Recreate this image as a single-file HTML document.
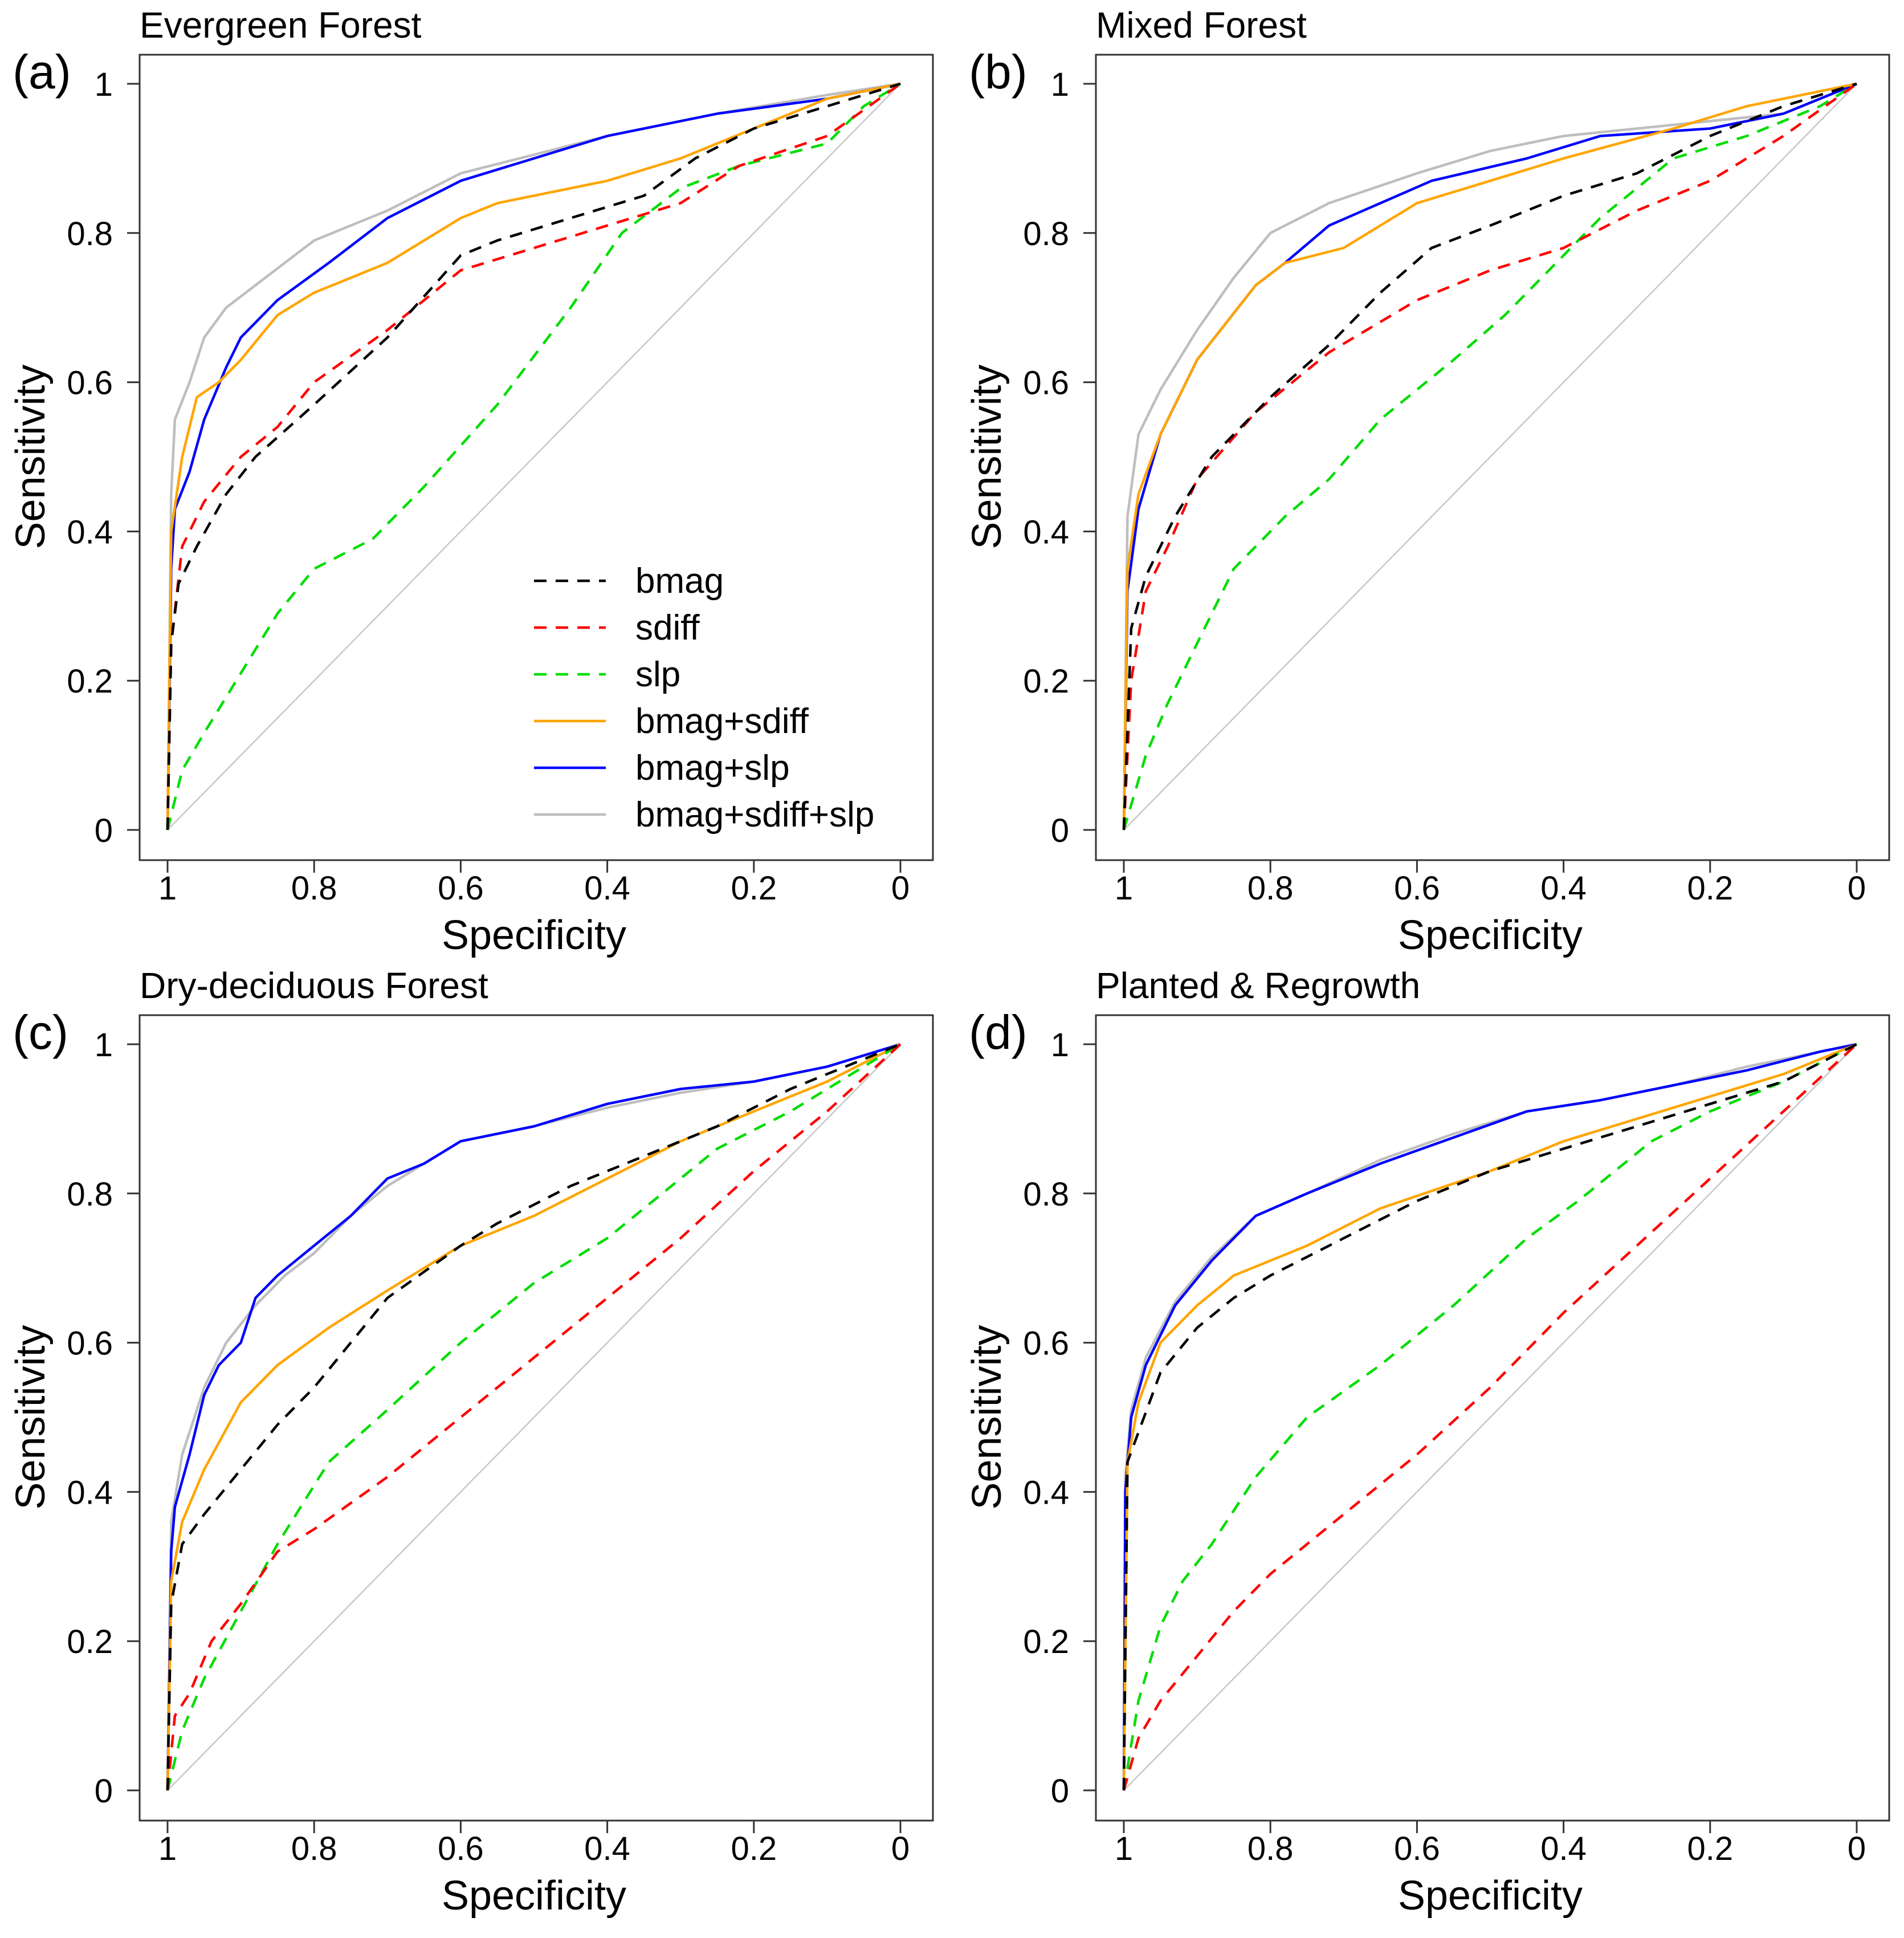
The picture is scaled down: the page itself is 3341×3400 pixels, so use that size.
<!DOCTYPE html>
<html><head><meta charset="utf-8">
<style>
html,body{margin:0;padding:0;background:#fff;}
svg{display:block;}
text{font-family:"Liberation Sans",Arial,sans-serif;fill:#000;}
</style></head>
<body>
<svg id="fig" width="3341" height="3400" viewBox="0 0 3341 3400" xmlns="http://www.w3.org/2000/svg"></svg>
<script>
// ---- data: [specificity, sensitivity] pairs ----
const panelTitles = ["Evergreen Forest","Mixed Forest","Dry-deciduous Forest","Planted & Regrowth"];
const panelLetters = ["(a)","(b)","(c)","(d)"];
const seriesNames = ["bmag","sdiff","slp","bmag+sdiff","bmag+slp","bmag+sdiff+slp"];
const xTicks = [1,0.8,0.6,0.4,0.2,0];
const xTickLabels = ["1","0.8","0.6","0.4","0.2","0"];
const yTicks = [0,0.2,0.4,0.6,0.8,1];
const yTickLabels = ["0","0.2","0.4","0.6","0.8","1"];

const aBmag = [[1,0],[0.995,0.25],[0.985,0.33],[0.96,0.38],[0.92,0.45],[0.88,0.5],[0.8,0.57],[0.7,0.66],[0.6,0.77],[0.55,0.79],[0.45,0.82],[0.35,0.85],[0.28,0.9],[0.2,0.94],[0.1,0.97],[0,1]];
const aSdiff = [[1,0],[0.995,0.25],[0.98,0.38],[0.95,0.44],[0.9,0.5],[0.85,0.54],[0.8,0.6],[0.7,0.67],[0.6,0.75],[0.5,0.78],[0.4,0.81],[0.3,0.84],[0.22,0.89],[0.1,0.93],[0,1]];
const aSlp = [[1,0],[0.98,0.08],[0.95,0.13],[0.9,0.21],[0.85,0.29],[0.8,0.35],[0.72,0.39],[0.65,0.46],[0.55,0.57],[0.45,0.7],[0.38,0.8],[0.3,0.86],[0.22,0.89],[0.1,0.92],[0.05,0.97],[0,1]];
const aBmagSdiff = [[1,0],[0.995,0.4],[0.98,0.5],[0.96,0.58],[0.93,0.6],[0.9,0.63],[0.85,0.69],[0.8,0.72],[0.7,0.76],[0.6,0.82],[0.55,0.84],[0.4,0.87],[0.3,0.9],[0.2,0.94],[0.1,0.98],[0,1]];
const aBmagSlp = [[1,0],[0.995,0.35],[0.99,0.43],[0.97,0.48],[0.95,0.55],[0.92,0.62],[0.9,0.66],[0.85,0.71],[0.78,0.76],[0.7,0.82],[0.6,0.87],[0.5,0.9],[0.4,0.93],[0.25,0.96],[0.1,0.98],[0,1]];
const aAll = [[1,0],[0.995,0.45],[0.99,0.55],[0.97,0.6],[0.95,0.66],[0.92,0.7],[0.88,0.73],[0.8,0.79],[0.7,0.83],[0.6,0.88],[0.5,0.905],[0.4,0.93],[0.25,0.96],[0.1,0.985],[0,1]];

const bBmag = [[1,0],[0.99,0.27],[0.97,0.34],[0.93,0.42],[0.88,0.5],[0.8,0.58],[0.72,0.65],[0.65,0.72],[0.58,0.78],[0.5,0.81],[0.4,0.85],[0.3,0.88],[0.2,0.93],[0.1,0.97],[0,1]];
const bSdiff = [[1,0],[0.99,0.2],[0.97,0.32],[0.94,0.38],[0.9,0.47],[0.82,0.56],[0.72,0.64],[0.6,0.71],[0.5,0.75],[0.4,0.78],[0.3,0.83],[0.2,0.87],[0.1,0.93],[0,1]];
const bSlp = [[1,0],[0.97,0.1],[0.94,0.17],[0.9,0.25],[0.85,0.35],[0.78,0.42],[0.72,0.47],[0.65,0.55],[0.55,0.63],[0.48,0.69],[0.42,0.75],[0.35,0.82],[0.25,0.9],[0.15,0.93],[0.05,0.97],[0,1]];
const bBmagSdiff = [[1,0],[0.995,0.35],[0.98,0.45],[0.95,0.53],[0.9,0.63],[0.82,0.73],[0.78,0.76],[0.7,0.78],[0.6,0.84],[0.5,0.87],[0.4,0.9],[0.25,0.94],[0.15,0.97],[0.05,0.99],[0,1]];
const bBmagSlp = [[1,0],[0.995,0.32],[0.98,0.43],[0.95,0.53],[0.9,0.63],[0.82,0.73],[0.78,0.76],[0.72,0.81],[0.65,0.84],[0.58,0.87],[0.45,0.9],[0.35,0.93],[0.2,0.94],[0.1,0.96],[0,1]];
const bAll = [[1,0],[0.995,0.42],[0.98,0.53],[0.95,0.59],[0.9,0.67],[0.85,0.74],[0.8,0.8],[0.72,0.84],[0.6,0.88],[0.5,0.91],[0.4,0.93],[0.25,0.945],[0.1,0.96],[0,1]];

const cBmag = [[1,0],[0.995,0.25],[0.98,0.33],[0.95,0.37],[0.9,0.43],[0.85,0.49],[0.8,0.54],[0.75,0.6],[0.7,0.66],[0.6,0.73],[0.55,0.76],[0.45,0.81],[0.35,0.85],[0.25,0.89],[0.15,0.94],[0.05,0.98],[0,1]];
const cSdiff = [[1,0],[0.99,0.1],[0.97,0.13],[0.94,0.2],[0.9,0.25],[0.85,0.32],[0.8,0.35],[0.7,0.42],[0.6,0.5],[0.5,0.58],[0.4,0.66],[0.3,0.74],[0.2,0.83],[0.1,0.91],[0,1]];
const cSlp = [[1,0],[0.98,0.08],[0.95,0.15],[0.9,0.24],[0.85,0.33],[0.78,0.44],[0.7,0.51],[0.6,0.6],[0.5,0.68],[0.4,0.74],[0.35,0.78],[0.25,0.86],[0.15,0.91],[0.05,0.97],[0,1]];
const cBmagSdiff = [[1,0],[0.995,0.28],[0.98,0.36],[0.95,0.43],[0.9,0.52],[0.85,0.57],[0.78,0.62],[0.7,0.67],[0.6,0.73],[0.5,0.77],[0.4,0.82],[0.3,0.87],[0.2,0.91],[0.1,0.95],[0,1]];
const cBmagSlp = [[1,0],[0.995,0.32],[0.99,0.38],[0.97,0.45],[0.95,0.53],[0.93,0.57],[0.9,0.6],[0.88,0.66],[0.85,0.69],[0.8,0.73],[0.75,0.77],[0.7,0.82],[0.65,0.84],[0.6,0.87],[0.5,0.89],[0.4,0.92],[0.3,0.94],[0.2,0.95],[0.1,0.97],[0,1]];
const cAll = [[1,0],[0.995,0.36],[0.98,0.45],[0.95,0.54],[0.92,0.6],[0.88,0.65],[0.84,0.69],[0.8,0.72],[0.75,0.77],[0.7,0.81],[0.65,0.84],[0.6,0.87],[0.5,0.89],[0.4,0.915],[0.3,0.935],[0.2,0.95],[0.1,0.97],[0,1]];

const dBmag = [[1,0],[0.995,0.44],[0.98,0.48],[0.95,0.56],[0.9,0.62],[0.85,0.66],[0.8,0.69],[0.7,0.74],[0.6,0.79],[0.5,0.83],[0.4,0.86],[0.3,0.89],[0.2,0.92],[0.1,0.95],[0,1]];
const dSdiff = [[1,0],[0.98,0.07],[0.95,0.12],[0.9,0.18],[0.85,0.24],[0.8,0.29],[0.7,0.37],[0.6,0.45],[0.5,0.54],[0.4,0.64],[0.3,0.73],[0.2,0.82],[0.1,0.91],[0,1]];
const dSlp = [[1,0],[0.98,0.12],[0.95,0.22],[0.92,0.28],[0.88,0.33],[0.82,0.42],[0.75,0.5],[0.65,0.57],[0.55,0.65],[0.45,0.74],[0.38,0.79],[0.28,0.87],[0.2,0.91],[0.1,0.95],[0,1]];
const dBmagSdiff = [[1,0],[0.995,0.44],[0.98,0.52],[0.95,0.6],[0.9,0.65],[0.85,0.69],[0.75,0.73],[0.65,0.78],[0.5,0.83],[0.4,0.87],[0.3,0.9],[0.2,0.93],[0.1,0.96],[0,1]];
const dBmagSlp = [[1,0],[0.998,0.4],[0.99,0.5],[0.97,0.57],[0.93,0.65],[0.88,0.71],[0.82,0.77],[0.75,0.8],[0.65,0.84],[0.55,0.875],[0.45,0.91],[0.35,0.925],[0.25,0.945],[0.15,0.965],[0.05,0.99],[0,1]];
const dAll = [[1,0],[0.998,0.42],[0.99,0.51],[0.97,0.58],[0.93,0.655],[0.88,0.715],[0.82,0.77],[0.75,0.8],[0.65,0.845],[0.55,0.88],[0.45,0.91],[0.35,0.925],[0.25,0.945],[0.15,0.97],[0.05,0.99],[0,1]];

const panelSeries = [
  [aBmag,aSdiff,aSlp,aBmagSdiff,aBmagSlp,aAll],
  [bBmag,bSdiff,bSlp,bBmagSdiff,bBmagSlp,bAll],
  [cBmag,cSdiff,cSlp,cBmagSdiff,cBmagSlp,cAll],
  [dBmag,dSdiff,dSlp,dBmagSdiff,dBmagSlp,dAll]
];
const seriesColors = ["#000000","#ff0000","#00dd00","#ffa500","#0000ff","#bebebe"];
const seriesDashed = [true,true,true,false,false,false];

// ---- layout ----
const NS="http://www.w3.org/2000/svg";
const svg=document.getElementById('fig');
function mk(tag,attrs,parent){const e=document.createElementNS(NS,tag);for(const k in attrs)e.setAttribute(k,attrs[k]);(parent||svg).appendChild(e);return e;}
const offsets=[[0,0],[1678,0],[0,1685],[1678,1685]];
const slugs=["evergreen","mixed","dry-deciduous","planted"];

offsets.forEach((off,p)=>{
  const ox=off[0], oy=off[1];
  const X1=294+ox, X0=1580+ox, Y1=147+oy, Y0=1456+oy;
  const xs=v=>X0+(X1-X0)*v;
  const ys=v=>Y0+(Y1-Y0)*v;
  const g=mk('g',{});
  
  

  const box=mk('rect',{x:245+ox,y:96+oy,width:1392,height:1413,fill:'none',stroke:'#333',"stroke-width":3},g);
  
  

  const t=mk('text',{x:245+ox,y:66+oy,"font-size":64},g); t.textContent=panelTitles[p];
  
  
  const l=mk('text',{x:22+ox,y:155+oy,"font-size":84},g); l.textContent=panelLetters[p];
  
  

  yTicks.forEach((v,i)=>{
    const tk=mk('line',{x1:245+ox,x2:223+ox,y1:ys(v),y2:ys(v),stroke:'#333',"stroke-width":3},g);
    
    
    const tl=mk('text',{x:198+ox,y:ys(v)+21,"font-size":58,"text-anchor":"end"},g); tl.textContent=yTickLabels[i];
    
    
  });
  xTicks.forEach((v,i)=>{
    const tk=mk('line',{x1:xs(v),x2:xs(v),y1:1509+oy,y2:1531+oy,stroke:'#333',"stroke-width":3},g);
    
    
    const tl=mk('text',{x:xs(v),y:1578+oy,"font-size":58,"text-anchor":"middle"},g); tl.textContent=xTickLabels[i];
    
    
  });
  const xt=mk('text',{x:(X0+X1)/2,y:1665+oy,"font-size":72,"text-anchor":"middle"},g); xt.textContent="Specificity";
  
  
  const yt=mk('text',{x:0,y:0,"font-size":72,"text-anchor":"middle",transform:`translate(${78+ox},${(Y0+Y1)/2}) rotate(-90)`},g); yt.textContent="Sensitivity";
  
  

  const dg=mk('line',{x1:xs(1),y1:ys(0),x2:xs(0),y2:ys(1),stroke:'#c8c8c8',"stroke-width":2.5},g);
  
  

  const order=[5,4,3,2,1,0];
  order.forEach(si=>{
    const pts=panelSeries[p][si];
    const d=pts.map((q,i)=>(i?'L':'M')+xs(q[0]).toFixed(1)+','+ys(q[1]).toFixed(1)).join(' ');
    const attrs={d:d,fill:'none',stroke:seriesColors[si],"stroke-width":4.5,"stroke-linejoin":"round"};
    if(seriesDashed[si]) attrs["stroke-dasharray"]="22,16";
    const path=mk('path',attrs,g);
    
    
  });

  if(p===0){
    seriesNames.forEach((n,i)=>{
      const yy=1019+oy+i*82;
      const ln=mk('line',{x1:937,x2:1063,y1:yy,y2:yy,stroke:seriesColors[i],"stroke-width":4.5},g);
      if(seriesDashed[i]) ln.setAttribute('stroke-dasharray','22,16');
      
      
      const lt=mk('text',{x:1115,y:yy+21,"font-size":62},g); lt.textContent=n;
      
      
    });
  }
});
</script>
</body></html>
